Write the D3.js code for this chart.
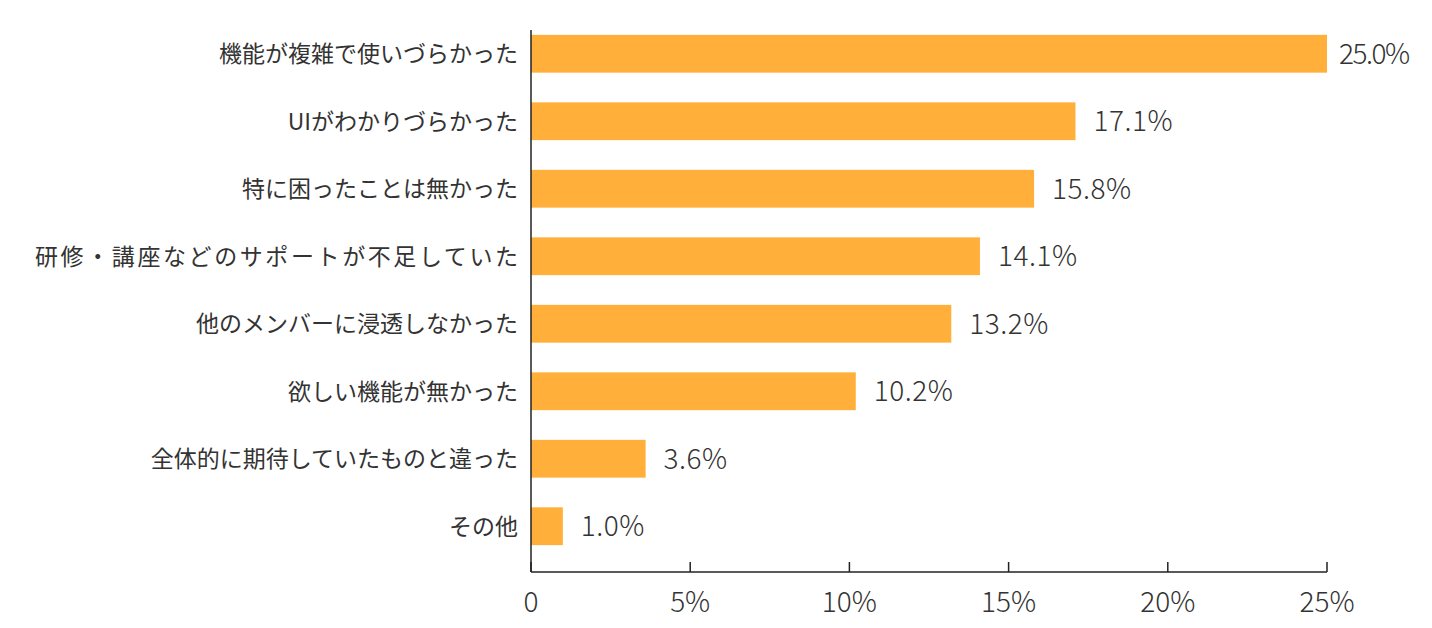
<!DOCTYPE html>
<html><head><meta charset="utf-8">
<script src="https://cdn.jsdelivr.net/npm/d3@7"></script>
<style>body{margin:0;background:#fff}</style>
</head><body><div id="chart"></div>
<script>
const categories = ["機能が複雑で使いづらかった","UIがわかりづらかった","特に困ったことは無かった","研修・講座などのサポートが不足していた","他のメンバーに浸透しなかった","欲しい機能が無かった","全体的に期待していたものと違った","その他"];
const values = [25.0,17.1,15.8,14.1,13.2,10.2,3.6,1.0];
const ticks = [0,5,10,15,20,25];

const width = 1432, height = 628;

const svg = d3.select("#chart").append("svg").attr("width", width).attr("height", height)
  .style("font-family", "'Noto Sans CJK JP', 'Noto Sans', sans-serif");

const x = d3.scaleLinear().domain([0, 25]).range([531, 1327]);
const y = d3.scaleBand().domain(categories).range([20, 560]).paddingInner(0.44).paddingOuter(0.22);

// ── Bars ──
svg.append("g").selectAll("rect").data(values).join("rect")
  .attr("x", x(0)).attr("y", (d, i) => y(categories[i]))
  .attr("width", d => x(d) - x(0)).attr("height", y.bandwidth())
  .attr("fill", "#FFAF3A");

// ── Value labels ──
svg.append("g").selectAll("text").data(values).join("text")
  .attr("x", d => x(d) + (d >= 25 ? 12 : 18))
  .attr("y", (d, i) => y(categories[i]) + y.bandwidth() / 2)
  .attr("dy", "0.36em").attr("font-size", 28).attr("font-weight", 300).attr("fill", "#333")
  .attr("letter-spacing", d => d >= 25 ? "-1.5px" : "0.5px")
  .text(d => d.toFixed(1) + "%");

// ── Category labels ──
svg.append("g").selectAll("text").data(categories).join("text")
  .attr("x", 518).attr("y", d => y(d) + y.bandwidth() / 2)
  .attr("dy", "0.36em").attr("text-anchor", "end")
  .attr("font-size", 23).attr("fill", "#333")
  .attr("textLength", d => d === categories[3] ? 483 : null)
  .text(d => d);

// ── Axes ──
svg.append("line").attr("x1", x(0)).attr("x2", x(0)).attr("y1", 30).attr("y2", 572)
  .attr("stroke", "#222").attr("stroke-width", 1.5);
svg.append("line").attr("x1", x(0)).attr("x2", x(25)).attr("y1", 572).attr("y2", 572)
  .attr("stroke", "#222").attr("stroke-width", 1.5);
svg.append("g").selectAll("line").data(ticks).join("line")
  .attr("x1", d => x(d)).attr("x2", d => x(d)).attr("y1", 562).attr("y2", 572)
  .attr("stroke", "#222").attr("stroke-width", 1.5);
svg.append("g").selectAll("text").data(ticks).join("text")
  .attr("x", d => x(d)).attr("y", 612).attr("text-anchor", "middle")
  .attr("font-size", 28).attr("font-weight", 300).attr("fill", "#333")
  .text(d => d === 0 ? "0" : d + "%");
</script></body></html>
